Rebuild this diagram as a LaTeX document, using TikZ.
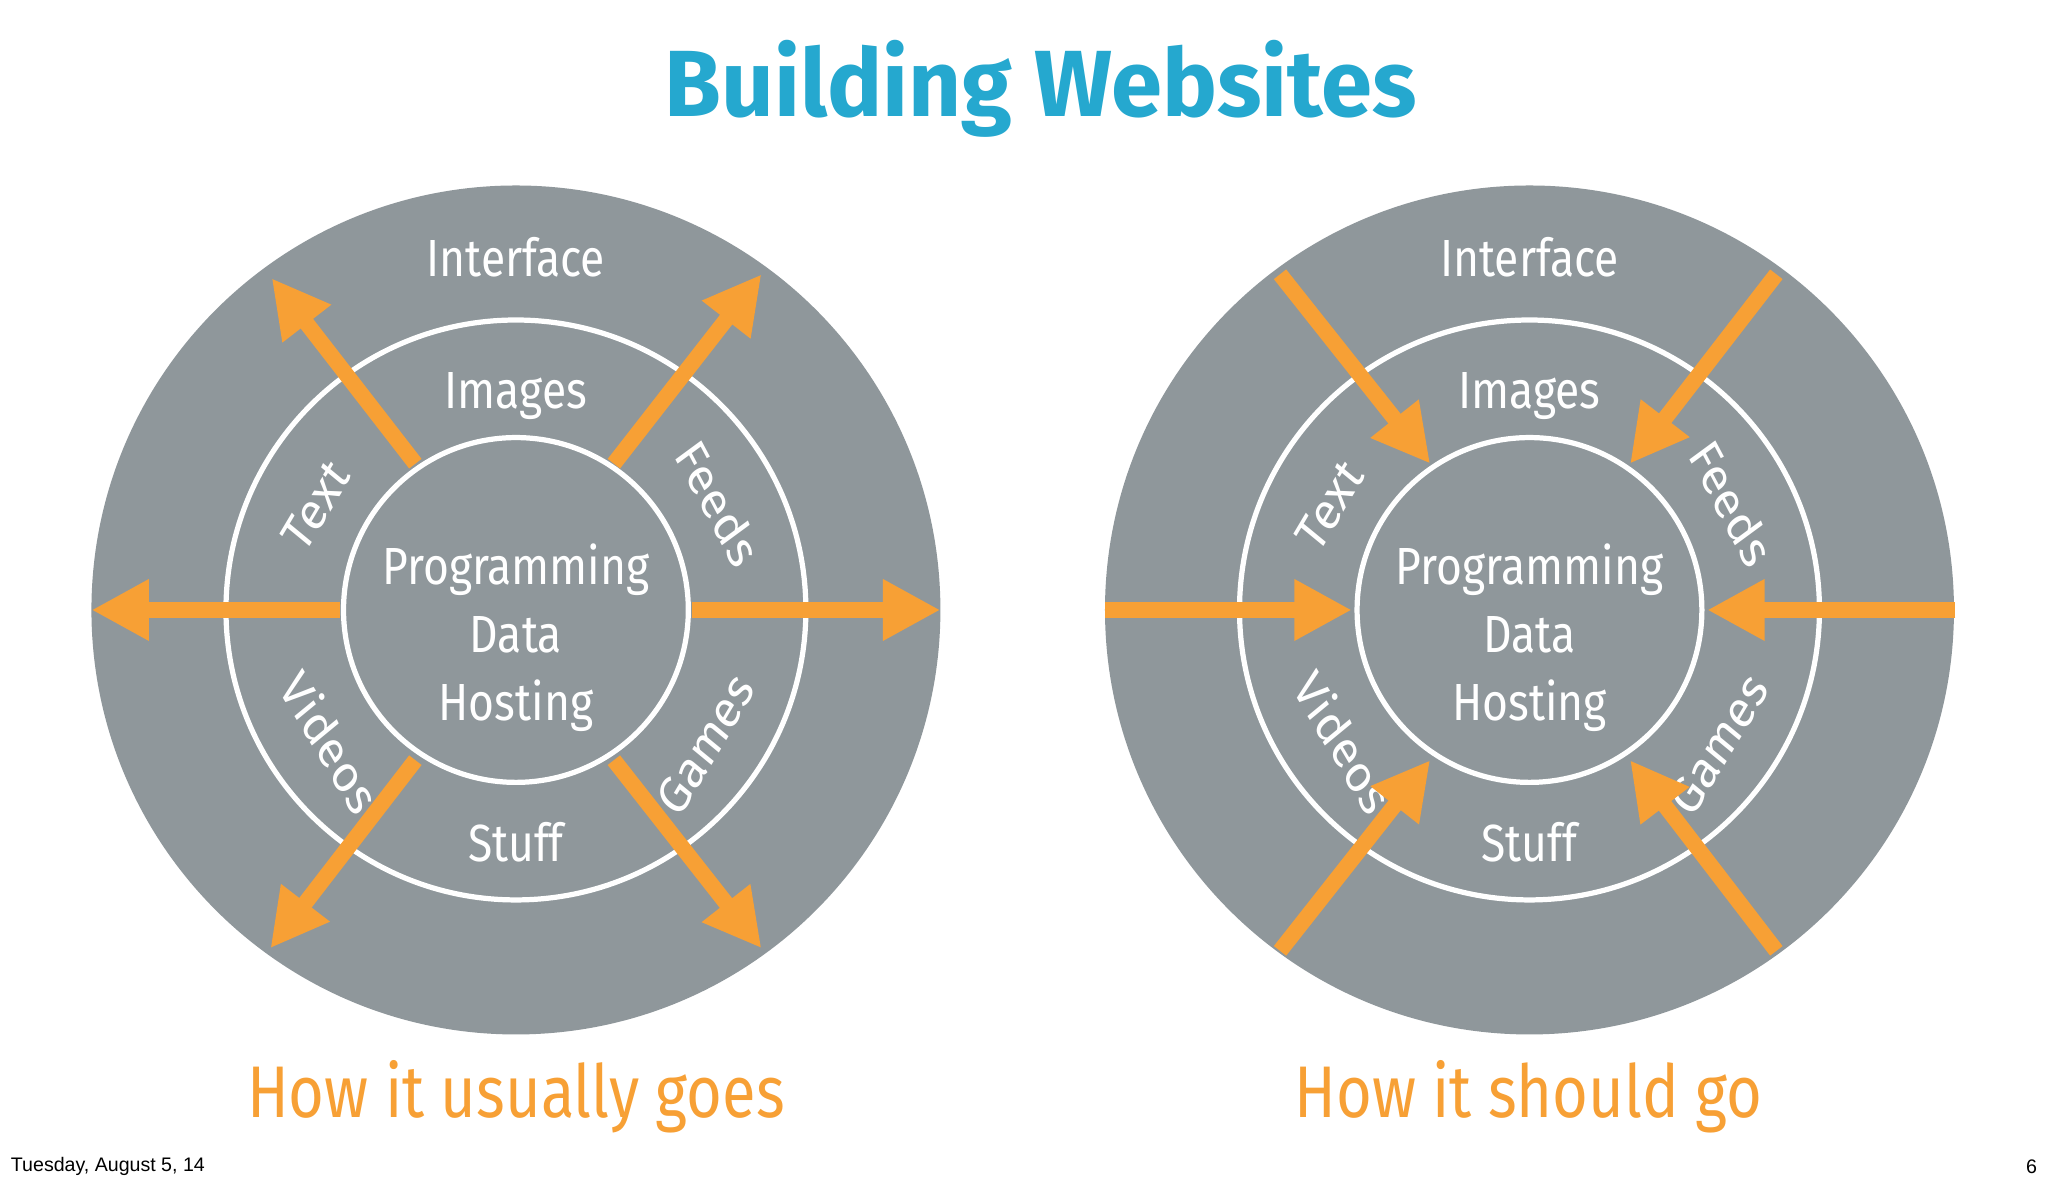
\documentclass[tikz,border=0pt]{standalone}
\usepackage{fontspec}
\setmainfont{Fira Sans}
\newfontfamily\footfont{Liberation Sans}
\usetikzlibrary{arrows.meta}
\definecolor{disc}{HTML}{8F979B}
\definecolor{org}{HTML}{F7A035}
\definecolor{ttl}{HTML}{25A8CF}
\tikzset{
  arr/.style={draw=org,line width=6pt,-{Triangle[length=22pt,width=22pt]}},
  ring/.style={draw=white,line width=2pt},
  lbl/.style={text=white,font=\fontsize{20}{22}\selectfont,xscale=0.85,inner sep=0pt},
}
\begin{document}
\begin{tikzpicture}[x=0.5pt,y=-0.5pt]
\useasboundingbox (0,0) rectangle (1568,906);
\fill[white] (0,0) rectangle (1568,906);
\node[text=ttl,font=\fontsize{36}{40}\selectfont\bfseries,xscale=0.98] (title) at (797,68) {Building Websites};
\foreach \cx/\nm in {395/L,1171/R}{
  \fill[disc] (\cx,467) circle (325);
  \draw[ring] (\cx,467) circle (222);
  \draw[ring] (\cx,467) circle (132);
  \node[lbl] (int\nm) at (\cx,197) {Interface};
  \node[lbl] (img\nm) at (\cx,303) {Images};
  \node[lbl,align=center,font=\fontsize{20}{26}\selectfont] (prog\nm) at (\cx,488) {Programming\\Data\\Hosting};
  \node[lbl] (stf\nm) at (\cx,645) {Stuff};
  \node[lbl,rotate=55] (txt\nm) at (\cx-153,387) {Text};
  \node[lbl,rotate=-58] (fd\nm) at (\cx+155,385) {Feeds};
  \node[lbl,rotate=-55] (vid\nm) at (\cx-142,568) {Videos};
  \node[lbl,rotate=55] (gm\nm) at (\cx+145,570) {Games};
}
\coordinate (ls1) at (318,355); \coordinate (le1) at (208,213);
\coordinate (ls2) at (470,355); \coordinate (le2) at (583,210);
\coordinate (ls3) at (260,467); \coordinate (le3) at (70,467);
\coordinate (ls4) at (530,467); \coordinate (le4) at (720,467);
\coordinate (ls5) at (318,582); \coordinate (le5) at (207,726);
\coordinate (ls6) at (470,582); \coordinate (le6) at (583,726);
\foreach \i in {1,...,6}{\draw[arr] (ls\i) -- (le\i);}
\coordinate (rs1) at (980,210); \coordinate (re1) at (1095,355);
\coordinate (rs2) at (1360,210); \coordinate (re2) at (1248,355);
\coordinate (rs3) at (846,467); \coordinate (re3) at (1035,467);
\coordinate (rs4) at (1497,467); \coordinate (re4) at (1307,467);
\coordinate (rs5) at (980,728); \coordinate (re5) at (1095,582);
\coordinate (rs6) at (1360,728); \coordinate (re6) at (1248,582);
\foreach \i in {1,...,6}{\draw[arr] (rs\i) -- (re\i);}
\node[text=org,font=\fontsize{28}{30}\selectfont,xscale=0.84] (capL) at (395,840) {How it usually goes};
\node[text=org,font=\fontsize{28}{30}\selectfont,xscale=0.84] (capR) at (1170,840) {How it should go};
\node[anchor=west,font=\footfont\fontsize{7.5}{8}\selectfont,inner sep=0pt] (date) at (8,893) {Tuesday, August 5, 14};
\node[anchor=east,font=\footfont\fontsize{7.5}{8}\selectfont,inner sep=0pt] (pg) at (1560,893) {6};
\end{tikzpicture}
\end{document}
